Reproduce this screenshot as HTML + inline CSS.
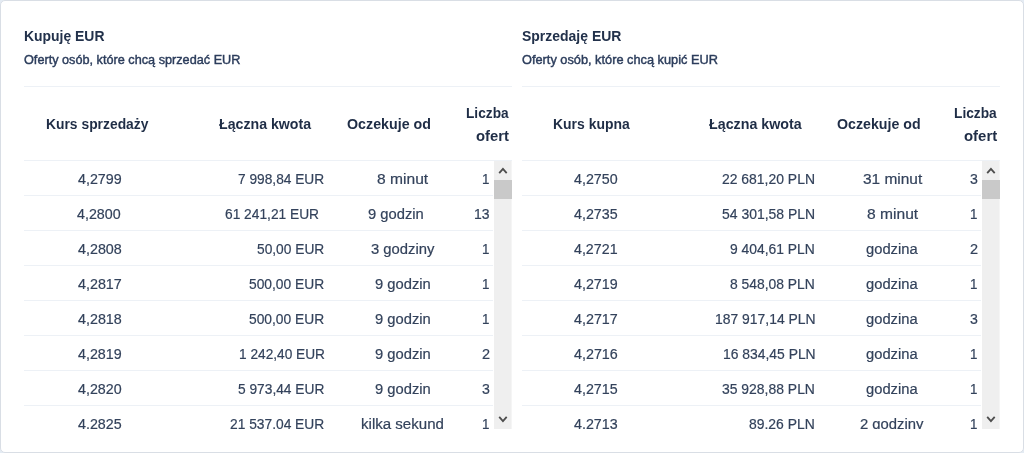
<!DOCTYPE html>
<html lang="pl"><head><meta charset="utf-8"><title>Oferty EUR</title>
<style>
html,body{margin:0;padding:0;}
body{width:1024px;height:453px;overflow:hidden;background:#e4ebf3;position:relative;}
.card{position:absolute;left:0;top:0;width:1024px;height:453px;box-sizing:border-box;border:1px solid #d9dee5;border-radius:5px;background:#fff;}
span{position:absolute;white-space:nowrap;font-family:"Liberation Sans",Arial,sans-serif;transform-origin:0 0;}
span.b{font-weight:700;}
span.n{font-weight:400;-webkit-text-stroke:0.2px currentColor;}
span.s{font-weight:400;-webkit-text-stroke:0.45px currentColor;}
.hl{position:absolute;height:1px;}
.sb{position:absolute;top:161px;width:18px;height:268px;}
.clip{position:absolute;left:0;top:0;width:1024px;height:429px;overflow:hidden;}
</style></head><body>
<div class="card"></div>
<div class="hl" style="left:24px;width:488px;top:86px;background:#edf1f6"></div><div class="hl" style="left:522px;width:478px;top:86px;background:#edf1f6"></div><div class="hl" style="left:24px;width:488px;top:160px;background:#edf1f6"></div><div class="hl" style="left:522px;width:478px;top:160px;background:#edf1f6"></div><div class="hl" style="left:24px;width:469px;top:195px;background:#edf1f6"></div><div class="hl" style="left:522px;width:459px;top:195px;background:#edf1f6"></div><div class="hl" style="left:24px;width:469px;top:230px;background:#edf1f6"></div><div class="hl" style="left:522px;width:459px;top:230px;background:#edf1f6"></div><div class="hl" style="left:24px;width:469px;top:265px;background:#edf1f6"></div><div class="hl" style="left:522px;width:459px;top:265px;background:#edf1f6"></div><div class="hl" style="left:24px;width:469px;top:300px;background:#edf1f6"></div><div class="hl" style="left:522px;width:459px;top:300px;background:#edf1f6"></div><div class="hl" style="left:24px;width:469px;top:335px;background:#edf1f6"></div><div class="hl" style="left:522px;width:459px;top:335px;background:#edf1f6"></div><div class="hl" style="left:24px;width:469px;top:370px;background:#edf1f6"></div><div class="hl" style="left:522px;width:459px;top:370px;background:#edf1f6"></div><div class="hl" style="left:24px;width:469px;top:405px;background:#edf1f6"></div><div class="hl" style="left:522px;width:459px;top:405px;background:#edf1f6"></div>
<div class="clip">
<span class="b" id="t0" style="left:24.06px;top:25.66px;font-size:15.4px;line-height:20px;color:#22314b;transform:scaleX(0.9050)">Kupuję EUR</span>
<span class="b" id="t1" style="left:521.82px;top:25.66px;font-size:15.4px;line-height:20px;color:#22314b;transform:scaleX(0.9078)">Sprzedaję EUR</span>
<span class="s" id="t2" style="left:23.90px;top:50.99px;font-size:13.6px;line-height:18px;color:#2c3d5c;transform:scaleX(0.9330)">Oferty osób, które chcą sprzedać EUR</span>
<span class="s" id="t3" style="left:521.59px;top:50.99px;font-size:13.6px;line-height:18px;color:#2c3d5c;transform:scaleX(0.9396)">Oferty osób, które chcą kupić EUR</span>
<span class="b" id="t4" style="left:46.46px;top:113.66px;font-size:15.4px;line-height:20px;color:#1f2d46;transform:scaleX(0.9007)">Kurs sprzedaży</span>
<span class="b" id="t5" style="left:219.40px;top:113.66px;font-size:15.4px;line-height:20px;color:#1f2d46;transform:scaleX(0.9200)">Łączna kwota</span>
<span class="b" id="t6" style="left:346.93px;top:113.66px;font-size:15.4px;line-height:20px;color:#1f2d46;transform:scaleX(0.9260)">Oczekuje od</span>
<span class="b" id="t7" style="left:465.57px;top:103.06px;font-size:15.4px;line-height:20px;color:#1f2d46;transform:scaleX(0.8899)">Liczba</span>
<span class="b" id="t8" style="left:475.84px;top:125.86px;font-size:15.4px;line-height:20px;color:#1f2d46;transform:scaleX(0.9643)">ofert</span>
<span class="b" id="t9" style="left:553.46px;top:113.66px;font-size:15.4px;line-height:20px;color:#1f2d46;transform:scaleX(0.9060)">Kurs kupna</span>
<span class="b" id="t10" style="left:709.00px;top:113.66px;font-size:15.4px;line-height:20px;color:#1f2d46;transform:scaleX(0.9270)">Łączna kwota</span>
<span class="b" id="t11" style="left:836.53px;top:113.66px;font-size:15.4px;line-height:20px;color:#1f2d46;transform:scaleX(0.9227)">Oczekuje od</span>
<span class="b" id="t12" style="left:953.97px;top:103.06px;font-size:15.4px;line-height:20px;color:#1f2d46;transform:scaleX(0.8921)">Liczba</span>
<span class="b" id="t13" style="left:964.14px;top:125.86px;font-size:15.4px;line-height:20px;color:#1f2d46;transform:scaleX(0.9703)">ofert</span>
<span class="n" id="t14" style="left:78.02px;top:170.34px;font-size:14.9px;line-height:19px;color:#33425b;transform:scaleX(0.9589)">4,2799</span>
<span class="n" id="t15" style="left:238.43px;top:170.34px;font-size:14.9px;line-height:19px;color:#33425b;transform:scaleX(0.9210)">7 998,84 EUR</span>
<span class="n" id="t16" style="left:376.74px;top:170.34px;font-size:14.9px;line-height:19px;color:#33425b;transform:scaleX(1.0472)">8 minut</span>
<span class="n" id="t17" style="left:482.49px;top:170.34px;font-size:14.9px;line-height:19px;color:#33425b;transform:scaleX(0.9000)">1</span>
<span class="n" id="t18" style="left:76.50px;top:205.34px;font-size:14.9px;line-height:19px;color:#33425b;transform:scaleX(0.9574)">4,2800</span>
<span class="n" id="t19" style="left:224.65px;top:205.34px;font-size:14.9px;line-height:19px;color:#33425b;transform:scaleX(0.9237)">61 241,21 EUR</span>
<span class="n" id="t20" style="left:368.24px;top:205.34px;font-size:14.9px;line-height:19px;color:#33425b;transform:scaleX(0.9905)">9 godzin</span>
<span class="n" id="t21" style="left:474.37px;top:205.34px;font-size:14.9px;line-height:19px;color:#33425b;transform:scaleX(0.9386)">13</span>
<span class="n" id="t22" style="left:77.96px;top:240.34px;font-size:14.9px;line-height:19px;color:#33425b;transform:scaleX(0.9608)">4,2808</span>
<span class="n" id="t23" style="left:257.37px;top:240.34px;font-size:14.9px;line-height:19px;color:#33425b;transform:scaleX(0.9230)">50,00 EUR</span>
<span class="n" id="t24" style="left:370.60px;top:240.34px;font-size:14.9px;line-height:19px;color:#33425b;transform:scaleX(0.9953)">3 godziny</span>
<span class="n" id="t25" style="left:482.49px;top:240.34px;font-size:14.9px;line-height:19px;color:#33425b;transform:scaleX(0.9000)">1</span>
<span class="n" id="t26" style="left:77.98px;top:275.34px;font-size:14.9px;line-height:19px;color:#33425b;transform:scaleX(0.9615)">4,2817</span>
<span class="n" id="t27" style="left:249.45px;top:275.34px;font-size:14.9px;line-height:19px;color:#33425b;transform:scaleX(0.9266)">500,00 EUR</span>
<span class="n" id="t28" style="left:374.84px;top:275.34px;font-size:14.9px;line-height:19px;color:#33425b;transform:scaleX(0.9905)">9 godzin</span>
<span class="n" id="t29" style="left:482.49px;top:275.34px;font-size:14.9px;line-height:19px;color:#33425b;transform:scaleX(0.9000)">1</span>
<span class="n" id="t30" style="left:77.96px;top:310.34px;font-size:14.9px;line-height:19px;color:#33425b;transform:scaleX(0.9608)">4,2818</span>
<span class="n" id="t31" style="left:249.45px;top:310.34px;font-size:14.9px;line-height:19px;color:#33425b;transform:scaleX(0.9266)">500,00 EUR</span>
<span class="n" id="t32" style="left:374.84px;top:310.34px;font-size:14.9px;line-height:19px;color:#33425b;transform:scaleX(0.9905)">9 godzin</span>
<span class="n" id="t33" style="left:482.49px;top:310.34px;font-size:14.9px;line-height:19px;color:#33425b;transform:scaleX(0.9000)">1</span>
<span class="n" id="t34" style="left:78.02px;top:345.34px;font-size:14.9px;line-height:19px;color:#33425b;transform:scaleX(0.9589)">4,2819</span>
<span class="n" id="t35" style="left:238.65px;top:345.34px;font-size:14.9px;line-height:19px;color:#33425b;transform:scaleX(0.9187)">1 242,40 EUR</span>
<span class="n" id="t36" style="left:374.84px;top:345.34px;font-size:14.9px;line-height:19px;color:#33425b;transform:scaleX(0.9905)">9 godzin</span>
<span class="n" id="t37" style="left:481.93px;top:345.34px;font-size:14.9px;line-height:19px;color:#33425b;transform:scaleX(0.9741)">2</span>
<span class="n" id="t38" style="left:78.00px;top:380.34px;font-size:14.9px;line-height:19px;color:#33425b;transform:scaleX(0.9574)">4,2820</span>
<span class="n" id="t39" style="left:238.29px;top:380.34px;font-size:14.9px;line-height:19px;color:#33425b;transform:scaleX(0.9226)">5 973,44 EUR</span>
<span class="n" id="t40" style="left:374.84px;top:380.34px;font-size:14.9px;line-height:19px;color:#33425b;transform:scaleX(0.9905)">9 godzin</span>
<span class="n" id="t41" style="left:482.05px;top:380.34px;font-size:14.9px;line-height:19px;color:#33425b;transform:scaleX(0.9495)">3</span>
<span class="n" id="t42" style="left:78.02px;top:415.34px;font-size:14.9px;line-height:19px;color:#33425b;transform:scaleX(0.9573)">4,2825</span>
<span class="n" id="t43" style="left:230.39px;top:415.34px;font-size:14.9px;line-height:19px;color:#33425b;transform:scaleX(0.9253)">21 537,04 EUR</span>
<span class="n" id="t44" style="left:361.08px;top:415.34px;font-size:14.9px;line-height:19px;color:#33425b;transform:scaleX(1.0119)">kilka sekund</span>
<span class="n" id="t45" style="left:482.49px;top:415.34px;font-size:14.9px;line-height:19px;color:#33425b;transform:scaleX(0.9000)">1</span>
<span class="n" id="t46" style="left:573.80px;top:170.34px;font-size:14.9px;line-height:19px;color:#33425b;transform:scaleX(0.9574)">4,2750</span>
<span class="n" id="t47" style="left:722.30px;top:170.34px;font-size:14.9px;line-height:19px;color:#33425b;transform:scaleX(0.9355)">22 681,20 PLN</span>
<span class="n" id="t48" style="left:862.64px;top:170.34px;font-size:14.9px;line-height:19px;color:#33425b;transform:scaleX(1.0370)">31 minut</span>
<span class="n" id="t49" style="left:969.95px;top:170.34px;font-size:14.9px;line-height:19px;color:#33425b;transform:scaleX(0.9495)">3</span>
<span class="n" id="t50" style="left:573.82px;top:205.34px;font-size:14.9px;line-height:19px;color:#33425b;transform:scaleX(0.9573)">4,2735</span>
<span class="n" id="t51" style="left:722.24px;top:205.34px;font-size:14.9px;line-height:19px;color:#33425b;transform:scaleX(0.9362)">54 301,58 PLN</span>
<span class="n" id="t52" style="left:866.64px;top:205.34px;font-size:14.9px;line-height:19px;color:#33425b;transform:scaleX(1.0472)">8 minut</span>
<span class="n" id="t53" style="left:970.39px;top:205.34px;font-size:14.9px;line-height:19px;color:#33425b;transform:scaleX(0.9000)">1</span>
<span class="n" id="t54" style="left:573.90px;top:240.34px;font-size:14.9px;line-height:19px;color:#33425b;transform:scaleX(0.9561)">4,2721</span>
<span class="n" id="t55" style="left:730.38px;top:240.34px;font-size:14.9px;line-height:19px;color:#33425b;transform:scaleX(0.9318)">9 404,61 PLN</span>
<span class="n" id="t56" style="left:866.33px;top:240.34px;font-size:14.9px;line-height:19px;color:#33425b;transform:scaleX(0.9901)">godzina</span>
<span class="n" id="t57" style="left:969.83px;top:240.34px;font-size:14.9px;line-height:19px;color:#33425b;transform:scaleX(0.9741)">2</span>
<span class="n" id="t58" style="left:573.82px;top:275.34px;font-size:14.9px;line-height:19px;color:#33425b;transform:scaleX(0.9589)">4,2719</span>
<span class="n" id="t59" style="left:730.41px;top:275.34px;font-size:14.9px;line-height:19px;color:#33425b;transform:scaleX(0.9314)">8 548,08 PLN</span>
<span class="n" id="t60" style="left:866.33px;top:275.34px;font-size:14.9px;line-height:19px;color:#33425b;transform:scaleX(0.9901)">godzina</span>
<span class="n" id="t61" style="left:970.39px;top:275.34px;font-size:14.9px;line-height:19px;color:#33425b;transform:scaleX(0.9000)">1</span>
<span class="n" id="t62" style="left:573.78px;top:310.34px;font-size:14.9px;line-height:19px;color:#33425b;transform:scaleX(0.9615)">4,2717</span>
<span class="n" id="t63" style="left:714.64px;top:310.34px;font-size:14.9px;line-height:19px;color:#33425b;transform:scaleX(0.9349)">187 917,14 PLN</span>
<span class="n" id="t64" style="left:866.33px;top:310.34px;font-size:14.9px;line-height:19px;color:#33425b;transform:scaleX(0.9901)">godzina</span>
<span class="n" id="t65" style="left:969.95px;top:310.34px;font-size:14.9px;line-height:19px;color:#33425b;transform:scaleX(0.9495)">3</span>
<span class="n" id="t66" style="left:573.76px;top:345.34px;font-size:14.9px;line-height:19px;color:#33425b;transform:scaleX(0.9608)">4,2716</span>
<span class="n" id="t67" style="left:722.60px;top:345.34px;font-size:14.9px;line-height:19px;color:#33425b;transform:scaleX(0.9325)">16 834,45 PLN</span>
<span class="n" id="t68" style="left:866.33px;top:345.34px;font-size:14.9px;line-height:19px;color:#33425b;transform:scaleX(0.9901)">godzina</span>
<span class="n" id="t69" style="left:970.39px;top:345.34px;font-size:14.9px;line-height:19px;color:#33425b;transform:scaleX(0.9000)">1</span>
<span class="n" id="t70" style="left:573.82px;top:380.34px;font-size:14.9px;line-height:19px;color:#33425b;transform:scaleX(0.9573)">4,2715</span>
<span class="n" id="t71" style="left:722.32px;top:380.34px;font-size:14.9px;line-height:19px;color:#33425b;transform:scaleX(0.9354)">35 928,88 PLN</span>
<span class="n" id="t72" style="left:866.33px;top:380.34px;font-size:14.9px;line-height:19px;color:#33425b;transform:scaleX(0.9901)">godzina</span>
<span class="n" id="t73" style="left:970.39px;top:380.34px;font-size:14.9px;line-height:19px;color:#33425b;transform:scaleX(0.9000)">1</span>
<span class="n" id="t74" style="left:573.84px;top:415.34px;font-size:14.9px;line-height:19px;color:#33425b;transform:scaleX(0.9572)">4,2713</span>
<span class="n" id="t75" style="left:749.49px;top:415.34px;font-size:14.9px;line-height:19px;color:#33425b;transform:scaleX(0.9350)">89,26 PLN</span>
<span class="n" id="t76" style="left:860.40px;top:415.34px;font-size:14.9px;line-height:19px;color:#33425b;transform:scaleX(0.9957)">2 godziny</span>
<span class="n" id="t77" style="left:970.39px;top:415.34px;font-size:14.9px;line-height:19px;color:#33425b;transform:scaleX(0.9000)">1</span>
</div>
<svg class="sb" style="left:494px" width="18" height="268" viewBox="0 0 18 268">
<rect x="0" y="0" width="18" height="268" fill="#efefef"/>
<rect x="17" y="0" width="1" height="268" fill="#f5f5f5"/>
<rect x="0" y="19" width="18" height="19" fill="#c9c9c9"/>
<path d="M5.2 12.2 L8.95 7.9 L12.7 12.2" fill="none" stroke="#4d4d4d" stroke-width="1.8"/>
<path d="M5.2 255.8 L8.95 260.1 L12.7 255.8" fill="none" stroke="#4d4d4d" stroke-width="1.8"/>
</svg>
<svg class="sb" style="left:982px" width="18" height="268" viewBox="0 0 18 268">
<rect x="0" y="0" width="18" height="268" fill="#efefef"/>
<rect x="17" y="0" width="1" height="268" fill="#f5f5f5"/>
<rect x="0" y="19" width="18" height="19" fill="#c9c9c9"/>
<path d="M5.2 12.2 L8.95 7.9 L12.7 12.2" fill="none" stroke="#4d4d4d" stroke-width="1.8"/>
<path d="M5.2 255.8 L8.95 260.1 L12.7 255.8" fill="none" stroke="#4d4d4d" stroke-width="1.8"/>
</svg>
</body></html>
